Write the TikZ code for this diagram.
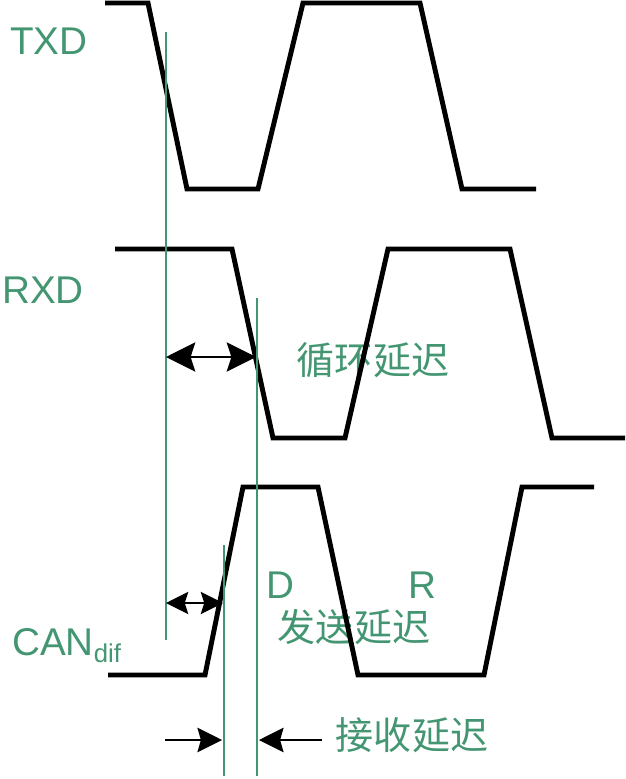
\documentclass[tikz,border=0pt]{standalone}
\usepackage{fontspec}
\setmainfont{Liberation Sans}
\newfontfamily\cjk{Noto Sans CJK SC}
\usepackage{tikz}
\usetikzlibrary{
  arrows.meta,
  positioning,
  calc
}
\definecolor{delaygreen}{RGB}{68,150,114}

\begin{document}
\begin{tikzpicture}[
      x=0.03cm, y=-0.03cm,
      wave/.style={line width=4.2pt, black, line join=miter},
      guide/.style={line width=1.9pt, delaygreen},
      sig/.style={text=delaygreen, inner sep=0pt,
                  font=\fontsize{33}{36}\selectfont},
      zh/.style={text=delaygreen, inner sep=0pt,
                 font=\cjk\fontsize{32.5}{35}\selectfont},
      tip big/.tip={Stealth[length=25pt,width=25pt,inset=4pt]},
      tip small/.tip={Stealth[length=19pt,width=19pt,inset=3pt]},
      tip mid/.tip={Stealth[length=21pt,width=21pt,inset=3pt]},
      span/.style={line width=1.8pt, tip big-tip big},
      span small/.style={line width=1.5pt, tip small-tip small},
      pointer/.style={line width=1.3pt, -tip mid}
  ]
      \useasboundingbox (0,0) rectangle (626,779);

      % Beschriftungen
      \node[sig] (txd) at (49,41) {TXD};
      \node[sig] (rxd) at (43,290) {RXD};
      \node[sig, anchor=base west] (can) at (12,655)
          {CAN{\fontsize{22}{24}\selectfont\raisebox{-6pt}{dif}}};
      \node[sig] (dom) at (280,585) {D};
      \node[sig] (rec) at (422,585) {R};
      \node[zh] (loop) at (373,360) {循环延迟};
      \node[zh] (send) at (354,627) {发送延迟};
      \node[zh] (recv) at (412,735) {接收延迟};

      % Signalformen
      \draw[wave] (105,3) -- (148,3) -- (187,189) -- (258,189) -- (303,3)
          -- (420,3) -- (462,189) -- (536,189);
      \draw[wave] (115,249) -- (232,249) -- (273,438) -- (345,438) -- (388,249)
          -- (510,249) -- (552,438) -- (625,438);
      \draw[wave] (108,675) -- (205,675) -- (243,487) -- (318,487) -- (358,675)
          -- (484,675) -- (522,487) -- (594,487);

      % Hilfslinien
      \coordinate (txtop) at (166,32);
      \coordinate (txbot) at (166,640);
      \coordinate (rxtop) at (257,298);
      \coordinate (rxbot) at (257,776);
      \coordinate (cantop) at (224,545);
      \coordinate (canbot) at (224,776);
      \draw[guide] (txtop) -- (txbot);
      \draw[guide] (rxtop) -- (rxbot);
      \draw[guide] (cantop) -- (canbot);

      % Verzögerungen
      \coordinate (la) at (166,357);
      \coordinate (lb) at (256,357);
      \coordinate (sa) at (166,603);
      \coordinate (sb) at (223,603);
      \coordinate (ra) at (165,740);
      \coordinate (rb) at (222,740);
      \coordinate (rc) at (322,740);
      \coordinate (rd) at (259,740);
      \draw[span] (la) -- (lb);
      \draw[span small] (sa) -- (sb);
      \draw[pointer] (ra) -- (rb);
      \draw[pointer] (rc) -- (rd);
  \end{tikzpicture}
\end{document}
